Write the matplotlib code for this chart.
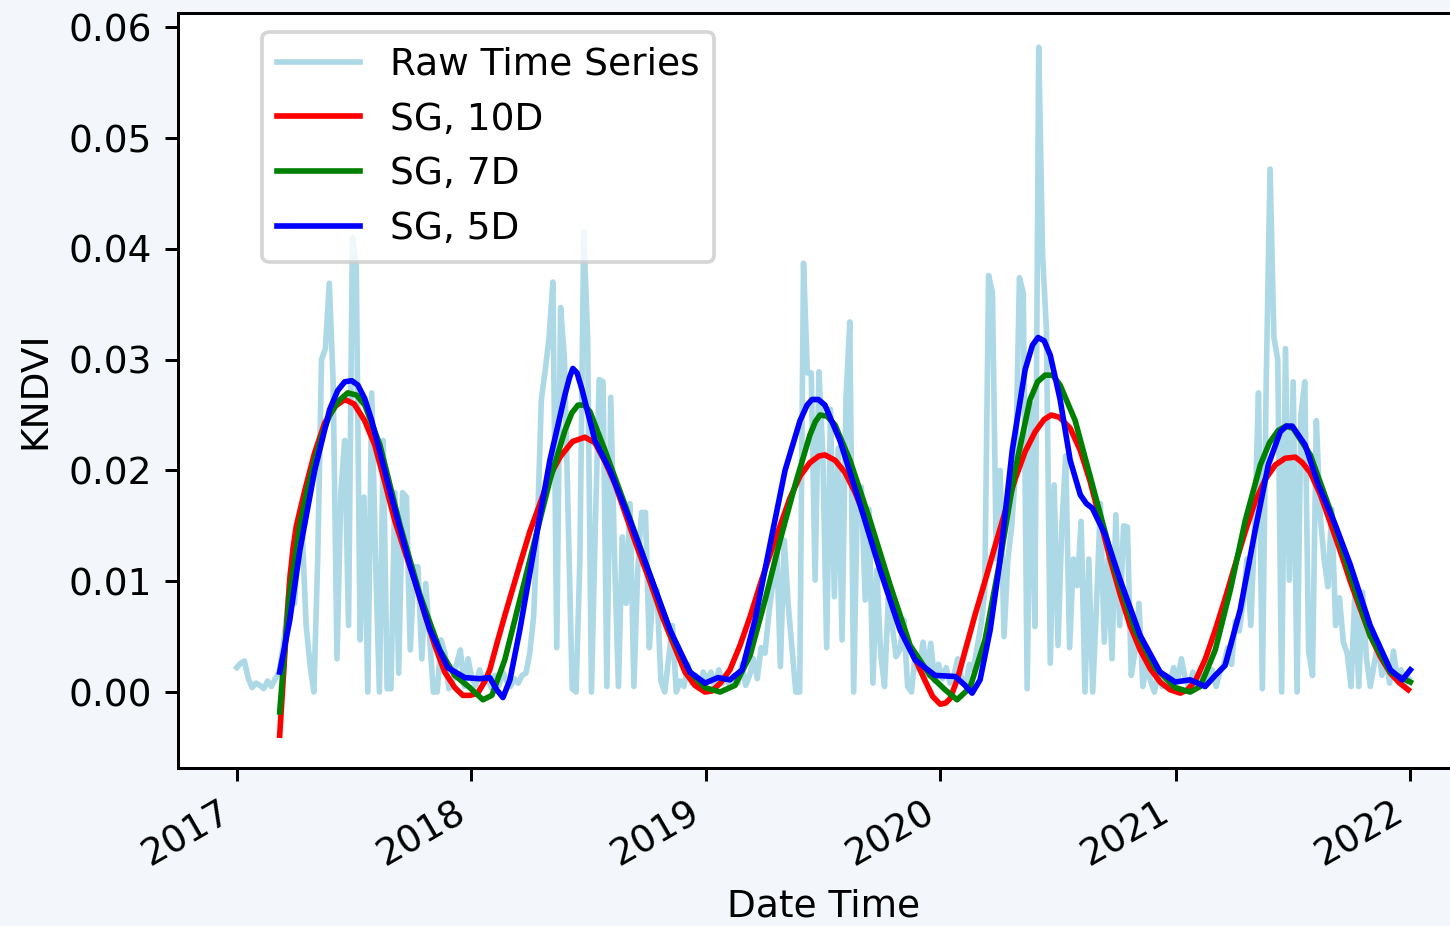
import matplotlib
matplotlib.use('Agg')
import matplotlib.pyplot as plt
import matplotlib.dates as mdates
import numpy as np
import pandas as pd

# raw KNDVI, one value every 6 days from 2017-01-01
raw_kndvi = [
    # 2017
    0.0022, 0.0026, 0.0028, 0.0012, 0.0004, 0.0008, 0.0006, 0.0003, 0.0010, 0.0005,
    0.0012, 0.0018, 0.0040, 0.0070, 0.0110, 0.0080, 0.0143, 0.0143, 0.0060, 0.0025,
    0.0000, 0.0120, 0.0300, 0.0310, 0.0369, 0.0280, 0.0030, 0.0180, 0.0227, 0.0060,
    0.0410, 0.0384, 0.0047, 0.0176, 0.0000, 0.0270, 0.0120, 0.0000, 0.0227, 0.0003,
    0.0003, 0.0180, 0.0017, 0.0180, 0.0176, 0.0038, 0.0113, 0.0113, 0.0030, 0.0098,
    0.0050, 0.0000, 0.0000, 0.0047, 0.0035, 0.0003, 0.0010, 0.0025, 0.0038, 0.0005,
    0.0030,
    # 2018
    0.0012, 0.0006, 0.0020, 0.0008, 0.0012, 0.0004, 0.0015, 0.0006, 0.0018, 0.0010,
    0.0005, 0.0012, 0.0008, 0.0015, 0.0017, 0.0035, 0.0068, 0.0150, 0.0264, 0.0290,
    0.0320, 0.0370, 0.0040, 0.0347, 0.0300, 0.0153, 0.0003, 0.0000, 0.0120, 0.0415,
    0.0320, 0.0000, 0.0150, 0.0282, 0.0280, 0.0005, 0.0266, 0.0120, 0.0005, 0.0140,
    0.0080, 0.0170, 0.0005, 0.0110, 0.0162, 0.0162, 0.0040, 0.0092, 0.0092, 0.0010,
    0.0000, 0.0030, 0.0060, 0.0000, 0.0010, 0.0005, 0.0025, 0.0008, 0.0015, 0.0003,
    0.0018,
    # 2019
    0.0010, 0.0018, 0.0004, 0.0020, 0.0008, 0.0012, 0.0005, 0.0015, 0.0008, 0.0025,
    0.0006, 0.0015, 0.0030, 0.0012, 0.0040, 0.0035, 0.0070, 0.0098, 0.0137, 0.0023,
    0.0137, 0.0080, 0.0040, 0.0000, 0.0000, 0.0387, 0.0288, 0.0288, 0.0101, 0.0289,
    0.0215, 0.0040, 0.0255, 0.0086, 0.0220, 0.0047, 0.0264, 0.0334, 0.0000, 0.0180,
    0.0185, 0.0083, 0.0165, 0.0008, 0.0110, 0.0035, 0.0005, 0.0085, 0.0060, 0.0032,
    0.0038, 0.0065, 0.0005, 0.0000, 0.0035, 0.0020, 0.0045, 0.0015, 0.0044, 0.0010,
    0.0025,
    # 2020
    0.0012, 0.0022, 0.0008, 0.0015, 0.0030, 0.0012, 0.0005, 0.0025, 0.0020, 0.0040,
    0.0060, 0.0090, 0.0376, 0.0360, 0.0120, 0.0200, 0.0050, 0.0120, 0.0150, 0.0200,
    0.0374, 0.0360, 0.0003, 0.0260, 0.0059, 0.0582, 0.0395, 0.0326, 0.0026, 0.0187,
    0.0042, 0.0150, 0.0213, 0.0040, 0.0120, 0.0096, 0.0154, 0.0000, 0.0120, 0.0000,
    0.0080, 0.0170, 0.0045, 0.0120, 0.0030, 0.0160, 0.0060, 0.0150, 0.0149, 0.0015,
    0.0037, 0.0080, 0.0005, 0.0025, 0.0010, 0.0000, 0.0018, 0.0005, 0.0015, 0.0008,
    0.0022,
    # 2021
    0.0010, 0.0030, 0.0012, 0.0005, 0.0018, 0.0008, 0.0015, 0.0005, 0.0012, 0.0020,
    0.0005, 0.0018, 0.0025, 0.0040, 0.0025, 0.0064, 0.0055, 0.0080, 0.0120, 0.0060,
    0.0150, 0.0270, 0.0003, 0.0280, 0.0472, 0.0320, 0.0300, 0.0000, 0.0310, 0.0101,
    0.0280, 0.0000, 0.0250, 0.0280, 0.0037, 0.0015, 0.0245, 0.0160, 0.0120, 0.0095,
    0.0165, 0.0060, 0.0085, 0.0045, 0.0035, 0.0005, 0.0090, 0.0005, 0.0090, 0.0030,
    0.0005, 0.0025, 0.0045, 0.0015, 0.0030, 0.0008, 0.0037, 0.0012, 0.0020, 0.0008,
    0.0012,
]

# Savitzky-Golay curves (decimal year, value)
sg10_years = [
    2017.183, 2017.194, 2017.205, 2017.216, 2017.226, 2017.240, 2017.254, 2017.290, 2017.332, 2017.375,
    2017.420, 2017.460, 2017.500, 2017.545, 2017.588, 2017.630, 2017.673, 2017.716, 2017.759, 2017.801,
    2017.844, 2017.886, 2017.929, 2017.963, 2017.995, 2018.027, 2018.058, 2018.078, 2018.110, 2018.142,
    2018.206, 2018.249, 2018.292, 2018.334, 2018.377, 2018.430, 2018.483, 2018.526, 2018.569, 2018.611,
    2018.654, 2018.707, 2018.760, 2018.813, 2018.867, 2018.910, 2018.952, 2018.995, 2019.025, 2019.060,
    2019.101, 2019.144, 2019.187, 2019.230, 2019.272, 2019.315, 2019.357, 2019.400, 2019.442, 2019.480,
    2019.506, 2019.550, 2019.592, 2019.635, 2019.677, 2019.720, 2019.762, 2019.805, 2019.847, 2019.890,
    2019.933, 2019.965, 2019.997, 2020.020, 2020.039, 2020.071, 2020.103, 2020.146, 2020.188, 2020.231,
    2020.274, 2020.316, 2020.359, 2020.402, 2020.440, 2020.470, 2020.505, 2020.551, 2020.594, 2020.636,
    2020.679, 2020.721, 2020.764, 2020.806, 2020.849, 2020.892, 2020.934, 2020.977, 2021.020, 2021.050,
    2021.084, 2021.127, 2021.169, 2021.212, 2021.254, 2021.297, 2021.339, 2021.382, 2021.425, 2021.467,
    2021.510, 2021.540, 2021.574, 2021.617, 2021.659, 2021.702, 2021.744, 2021.787, 2021.829, 2021.872,
    2021.915, 2021.955, 2021.991,
]
sg10_vals = [
    -0.0039, -0.0002, 0.0035, 0.0072, 0.0102, 0.0130, 0.0150, 0.0182, 0.0216, 0.0243,
    0.0258, 0.0264, 0.0260, 0.0245, 0.0223, 0.0190, 0.0155, 0.0127, 0.0100, 0.0070,
    0.0042, 0.0018, 0.0004, -0.0003, -0.0003, -0.0001, 0.0010, 0.0020, 0.0045, 0.0069,
    0.0115, 0.0145, 0.0170, 0.0195, 0.0212, 0.0226, 0.0230, 0.0225, 0.0208, 0.0188,
    0.0162, 0.0130, 0.0100, 0.0068, 0.0040, 0.0018, 0.0006, 0.0000, 0.0001, 0.0008,
    0.0020, 0.0042, 0.0068, 0.0097, 0.0124, 0.0150, 0.0175, 0.0195, 0.0207, 0.0213,
    0.0214, 0.0209, 0.0198, 0.0180, 0.0158, 0.0132, 0.0105, 0.0078, 0.0052, 0.0030,
    0.0010, -0.0004, -0.0011, -0.0010, -0.0006, 0.0012, 0.0037, 0.0070, 0.0100, 0.0132,
    0.0163, 0.0192, 0.0217, 0.0235, 0.0246, 0.0250, 0.0248, 0.0238, 0.0218, 0.0190,
    0.0155, 0.0120, 0.0088, 0.0060, 0.0038, 0.0021, 0.0009, 0.0002, -0.0001, 0.0002,
    0.0010, 0.0030, 0.0056, 0.0085, 0.0115, 0.0145, 0.0172, 0.0192, 0.0205, 0.0211,
    0.0212, 0.0207, 0.0198, 0.0178, 0.0153, 0.0127, 0.0100, 0.0075, 0.0051, 0.0032,
    0.0017, 0.0008, 0.0002,
]

sg7_years = [
    2017.183, 2017.205, 2017.226, 2017.269, 2017.300, 2017.332, 2017.365, 2017.396, 2017.435, 2017.473,
    2017.510, 2017.546, 2017.610, 2017.695, 2017.780, 2017.865, 2017.929, 2017.993, 2018.049, 2018.087,
    2018.142, 2018.206, 2018.270, 2018.334, 2018.398, 2018.428, 2018.454, 2018.480, 2018.505, 2018.569,
    2018.654, 2018.760, 2018.854, 2018.931, 2018.995, 2019.059, 2019.123, 2019.187, 2019.251, 2019.315,
    2019.379, 2019.442, 2019.465, 2019.485, 2019.515, 2019.549, 2019.613, 2019.698, 2019.783, 2019.869,
    2019.954, 2020.018, 2020.069, 2020.124, 2020.188, 2020.252, 2020.316, 2020.380, 2020.412, 2020.444,
    2020.476, 2020.508, 2020.572, 2020.657, 2020.743, 2020.828, 2020.913, 2020.998, 2021.062, 2021.105,
    2021.169, 2021.233, 2021.297, 2021.361, 2021.400, 2021.437, 2021.470, 2021.501, 2021.574, 2021.659,
    2021.744, 2021.829, 2021.915, 2022.000,
]
sg7_vals = [
    -0.0018, 0.0040, 0.0090, 0.0151, 0.0182, 0.0209, 0.0233, 0.0250, 0.0263, 0.0270,
    0.0268, 0.0259, 0.0223, 0.0151, 0.0088, 0.0038, 0.0015, 0.0004, -0.0007, -0.0003,
    0.0029, 0.0083, 0.0137, 0.0191, 0.0236, 0.0252, 0.0259, 0.0259, 0.0253, 0.0218,
    0.0169, 0.0106, 0.0051, 0.0018, 0.0004, 0.0000, 0.0006, 0.0033, 0.0083, 0.0137,
    0.0187, 0.0232, 0.0244, 0.0250, 0.0249, 0.0241, 0.0209, 0.0155, 0.0097, 0.0042,
    0.0015, 0.0002, -0.0007, 0.0004, 0.0047, 0.0119, 0.0200, 0.0264, 0.0280, 0.0286,
    0.0286, 0.0277, 0.0245, 0.0178, 0.0110, 0.0056, 0.0022, 0.0004, 0.0000, 0.0005,
    0.0038, 0.0092, 0.0155, 0.0205, 0.0225, 0.0236, 0.0240, 0.0238, 0.0214, 0.0164,
    0.0106, 0.0051, 0.0018, 0.0009,
]

sg5_years = [
    2017.183, 2017.226, 2017.269, 2017.332, 2017.396, 2017.430, 2017.460, 2017.490, 2017.516, 2017.545,
    2017.575, 2017.652, 2017.737, 2017.823, 2017.899, 2017.972, 2018.036, 2018.078, 2018.108, 2018.134,
    2018.164, 2018.206, 2018.270, 2018.334, 2018.398, 2018.418, 2018.432, 2018.450, 2018.471, 2018.526,
    2018.590, 2018.675, 2018.760, 2018.846, 2018.931, 2018.995, 2019.050, 2019.101, 2019.153, 2019.208,
    2019.272, 2019.336, 2019.400, 2019.430, 2019.451, 2019.478, 2019.506, 2019.570, 2019.656, 2019.741,
    2019.826, 2019.890, 2019.975, 2020.061, 2020.103, 2020.133, 2020.167, 2020.210, 2020.252, 2020.304,
    2020.359, 2020.390, 2020.414, 2020.440, 2020.466, 2020.508, 2020.551, 2020.594, 2020.620, 2020.645,
    2020.700, 2020.764, 2020.849, 2020.934, 2020.998, 2021.062, 2021.126, 2021.169, 2021.211, 2021.275,
    2021.339, 2021.395, 2021.446, 2021.472, 2021.497, 2021.552, 2021.608, 2021.680, 2021.744, 2021.829,
    2021.915, 2021.966, 2022.000,
]
sg5_vals = [
    0.0018, 0.0065, 0.0128, 0.0200, 0.0255, 0.0272, 0.0280, 0.0281, 0.0277, 0.0265,
    0.0245, 0.0182, 0.0115, 0.0056, 0.0022, 0.0013, 0.0012, 0.0013, 0.0002, -0.0005,
    0.0011, 0.0056, 0.0133, 0.0209, 0.0268, 0.0284, 0.0292, 0.0288, 0.0273, 0.0227,
    0.0200, 0.0155, 0.0106, 0.0056, 0.0018, 0.0008, 0.0013, 0.0011, 0.0020, 0.0065,
    0.0133, 0.0200, 0.0245, 0.0259, 0.0264, 0.0264, 0.0259, 0.0227, 0.0169, 0.0110,
    0.0056, 0.0029, 0.0015, 0.0014, 0.0006, -0.0001, 0.0011, 0.0056, 0.0119, 0.0218,
    0.0291, 0.0313, 0.0320, 0.0317, 0.0304, 0.0264, 0.0209, 0.0178, 0.0170, 0.0166,
    0.0142, 0.0101, 0.0051, 0.0018, 0.0009, 0.0011, 0.0005, 0.0015, 0.0024, 0.0074,
    0.0146, 0.0205, 0.0235, 0.0240, 0.0240, 0.0223, 0.0187, 0.0151, 0.0115, 0.0060,
    0.0020, 0.0011, 0.0020,
]


def to_dates(years):
    years = np.asarray(years)
    return pd.Timestamp('2017-01-01') + pd.to_timedelta((years - 2017) * 365.25, unit='D')


raw_dates = pd.date_range('2017-01-01', periods=len(raw_kndvi), freq='6D')

fig = plt.figure(figsize=(1450 / 270, 926 / 270), dpi=270, facecolor='#f3f7fb')
ax = fig.add_axes([0.1228, 0.1706, 0.8903, 0.8153])

ax.plot(raw_dates, raw_kndvi, color='lightblue', label='Raw Time Series')
ax.plot(to_dates(sg10_years), sg10_vals, color='red', label='SG, 10D')
ax.plot(to_dates(sg7_years), sg7_vals, color='green', label='SG, 7D')
ax.plot(to_dates(sg5_years), sg5_vals, color='blue', label='SG, 5D')

ax.set_xlim(to_dates([2016.75, 2022.25]))
ax.set_ylim(-0.00686, 0.06128)
ax.xaxis.set_major_locator(mdates.YearLocator())
ax.xaxis.set_major_formatter(mdates.DateFormatter('%Y'))
for lab in ax.get_xticklabels():
    lab.set_rotation(30)
    lab.set_ha('right')

ax.set_xlabel('Date Time')
ax.set_ylabel('KNDVI')
ax.legend(loc='upper left', bbox_to_anchor=(0.0505, 1.0), handlelength=2.2)

fig.savefig('out.png', dpi=270, facecolor=fig.get_facecolor())
